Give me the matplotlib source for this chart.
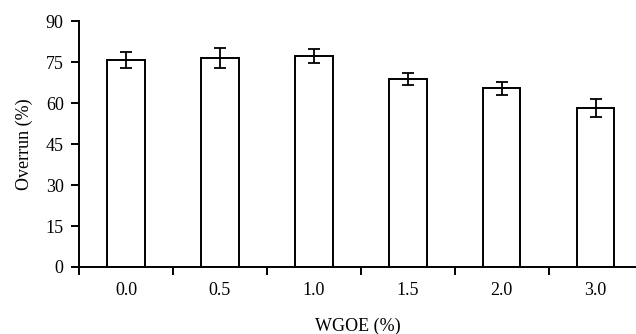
import matplotlib.pyplot as plt
import numpy as np

# WGOE concentration vs overrun
wgoe_labels = ['0.0', '0.5', '1.0', '1.5', '2.0', '3.0']
overrun = [75.6, 76.5, 77.1, 68.8, 65.4, 58.1]
overrun_err = [2.9, 3.6, 2.5, 2.3, 2.3, 3.2]

plt.rcParams['font.family'] = ['Liberation Serif', 'DejaVu Serif']

fig = plt.figure(figsize=(6.36, 3.34), dpi=100)
ax = fig.add_axes([0.1242, 0.2006, 0.8758, 0.7365])

x = np.arange(len(overrun))
ax.bar(x, overrun, width=0.4, color='white', edgecolor='black', linewidth=1.4,
       yerr=overrun_err, capsize=4.5,
       error_kw=dict(elinewidth=1.3, capthick=1.3, ecolor='black'))

ax.set_xlim(-0.5, 5.43)
ax.set_ylim(0, 90)
ax.set_yticks(np.arange(0, 91, 15))

# ticks at boundaries between categories, labels at the centres
ax.set_xticks(np.arange(-0.5, 5.0, 1.0))
ax.set_xticklabels([])
ax.set_xticks(x, minor=True)
ax.set_xticklabels(wgoe_labels, minor=True)
ax.tick_params(axis='x', which='major', direction='out', length=6, width=1.4)
ax.tick_params(axis='x', which='minor', length=0, pad=11, labelsize=13)
ax.tick_params(axis='y', direction='out', length=6, width=1.4, pad=5, labelsize=13)

for s in ['top', 'right']:
    ax.spines[s].set_visible(False)
for s in ['left', 'bottom']:
    ax.spines[s].set_linewidth(1.4)

ax.set_ylabel('Overrun (%)', fontsize=13, labelpad=9)
ax.set_xlabel('WGOE (%)', fontsize=13, labelpad=13)

fig.savefig('out.png', dpi=100)
